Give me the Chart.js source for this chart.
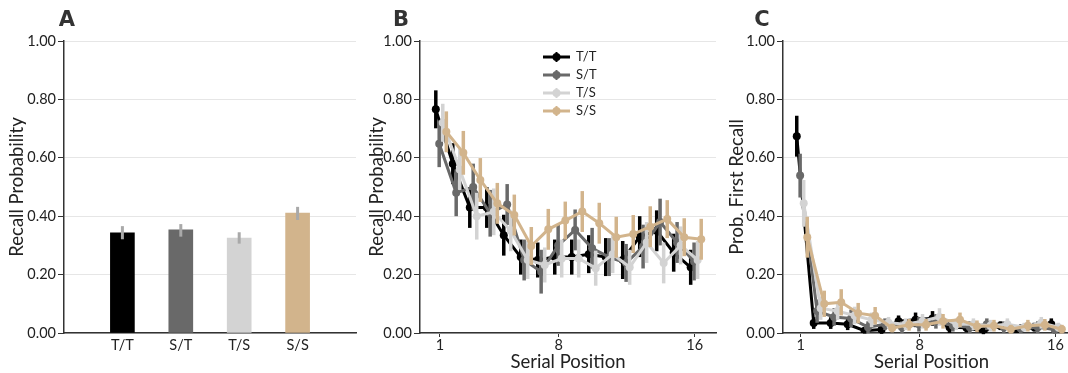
<!DOCTYPE html>
<html>
<head>
<meta charset="utf-8">
<script src="https://cdn.jsdelivr.net/npm/chart.js@4.4.1/dist/chart.umd.min.js"></script>
<style>
  html, body { margin: 0; padding: 0; background: #fff; }
  body { width: 1068px; height: 373px; overflow: hidden; position: relative; }
  canvas { position: absolute; top: 0; }
  .tag { position: absolute; top: 7px; font: bold 21px 'DejaVu Sans', sans-serif; color: #333; transform: translateX(-50%); }
</style>
</head>
<body>
<canvas id="panelA" width="360" height="373" style="left:0"></canvas>
<canvas id="panelB" width="360" height="373" style="left:360px"></canvas>
<canvas id="panelC" width="370" height="373" style="left:720px"></canvas>
<div class="tag" style="left:67px">A</div>
<div class="tag" style="left:401px">B</div>
<div class="tag" style="left:762px">C</div>
<script>
// conditions (study/test modality) and their colours
const conditions = ['T/T', 'S/T', 'T/S', 'S/S'];
const condColors = ['#000000', '#696969', '#d3d3d3', '#d2b48c'];

// overall recall probability with 95% CI
const recallMeans = [0.343, 0.353, 0.325, 0.411];
const recallLow = [0.321, 0.330, 0.306, 0.387];
const recallHigh = [0.366, 0.373, 0.345, 0.432];

const positions = [1, 2, 3, 4, 5, 6, 7, 8, 9, 10, 11, 12, 13, 14, 15, 16];
const positionTicks = [1, 8, 16];
const probTicks = [0, 0.2, 0.4, 0.6, 0.8, 1.0];

// serial position curves
const spcTT = [0.766, 0.58, 0.43, 0.43, 0.335, 0.26, 0.25, 0.26, 0.26, 0.27, 0.26, 0.25, 0.33, 0.35, 0.275, 0.225];
const spcST = [0.648, 0.48, 0.50, 0.41, 0.44, 0.25, 0.21, 0.30, 0.353, 0.29, 0.26, 0.24, 0.296, 0.38, 0.31, 0.245];
const spcTS = [0.72, 0.56, 0.40, 0.415, 0.35, 0.25, 0.233, 0.255, 0.255, 0.222, 0.27, 0.225, 0.31, 0.24, 0.30, 0.25];
const spcSS = [0.689, 0.617, 0.524, 0.444, 0.404, 0.298, 0.355, 0.385, 0.416, 0.376, 0.328, 0.339, 0.364, 0.39, 0.328, 0.321];
const spcErrTT = [0.065, 0.07, 0.07, 0.07, 0.07, 0.06, 0.06, 0.06, 0.06, 0.065, 0.065, 0.065, 0.07, 0.07, 0.065, 0.06];
const spcErrST = [0.08, 0.08, 0.08, 0.08, 0.07, 0.07, 0.075, 0.07, 0.07, 0.07, 0.065, 0.065, 0.075, 0.08, 0.07, 0.065];
const spcErrTS = [0.065, 0.07, 0.08, 0.08, 0.07, 0.065, 0.06, 0.065, 0.065, 0.06, 0.065, 0.06, 0.07, 0.07, 0.065, 0.065];
const spcErrSS = [0.07, 0.075, 0.075, 0.07, 0.07, 0.065, 0.07, 0.065, 0.07, 0.07, 0.07, 0.065, 0.07, 0.065, 0.065, 0.07];

// probability of first recall
const pfrTT = [0.674, 0.034, 0.034, 0.03, 0.008, 0.012, 0.04, 0.045, 0.05, 0.02, 0.018, 0.006, 0.025, 0.01, 0.02, 0.03];
const pfrST = [0.539, 0.075, 0.055, 0.05, 0.02, 0.03, 0.02, 0.03, 0.04, 0.025, 0.02, 0.03, 0.02, 0.015, 0.02, 0.012];
const pfrTS = [0.444, 0.085, 0.075, 0.06, 0.045, 0.035, 0.03, 0.04, 0.055, 0.03, 0.03, 0.025, 0.03, 0.02, 0.035, 0.02];
const pfrSS = [0.328, 0.10, 0.105, 0.068, 0.059, 0.017, 0.028, 0.028, 0.04, 0.045, 0.023, 0.025, 0.013, 0.025, 0.028, 0.013];
const pfrErrTT = [0.07, 0.02, 0.02, 0.02, 0.01, 0.015, 0.02, 0.025, 0.025, 0.02, 0.015, 0.01, 0.015, 0.01, 0.015, 0.02];
const pfrErrST = [0.075, 0.04, 0.03, 0.03, 0.02, 0.02, 0.02, 0.025, 0.025, 0.02, 0.02, 0.02, 0.02, 0.015, 0.02, 0.015];
const pfrErrTS = [0.08, 0.04, 0.03, 0.03, 0.025, 0.02, 0.02, 0.025, 0.03, 0.02, 0.02, 0.02, 0.02, 0.015, 0.02, 0.015];
const pfrErrSS = [0.07, 0.045, 0.045, 0.035, 0.03, 0.015, 0.02, 0.02, 0.025, 0.025, 0.02, 0.02, 0.015, 0.02, 0.02, 0.015];

// horizontal dodge so the four conditions don't sit on top of each other
const dodge = [-0.24, -0.04, 0.17, 0.38];

const TICK_FONT = { size: 14.5 };
const TITLE_FONT = { size: 18.5 };

Chart.defaults.font.family = "Lato, 'Open Sans', sans-serif";
Chart.defaults.color = '#222';
Chart.defaults.animation = false;

// vertical CI whiskers, drawn under the line (or over the bar)
const errorBars = {
  id: 'errorBars',
  beforeDatasetDraw(chart, args) { if (!chart.data.datasets[args.index].errOnTop) drawErr(chart, args.index); },
  afterDatasetDraw(chart, args) { if (chart.data.datasets[args.index].errOnTop) drawErr(chart, args.index); }
};
function drawErr(chart, idx) {
  const ds = chart.data.datasets[idx];
  if (!ds.errLow) return;
  const { x, y } = chart.scales;
  const ctx = chart.ctx;
  ctx.save();
  ctx.strokeStyle = ds.errColor || ds.borderColor;
  ctx.lineWidth = ds.errWidth;
  ds.data.forEach((pt, i) => {
    const px = x.getPixelForValue(pt.x);
    ctx.beginPath();
    ctx.moveTo(px, y.getPixelForValue(ds.errLow[i]));
    ctx.lineTo(px, y.getPixelForValue(ds.errHigh[i]));
    ctx.stroke();
  });
  ctx.restore();
}

// small legend in the upper middle of panel B
const insetLegend = {
  id: 'insetLegend',
  afterDraw(chart, args, opts) {
    if (!opts.show) return;
    const ctx = chart.ctx;
    ctx.save();
    ctx.font = "13px Lato, 'Open Sans', sans-serif";
    ctx.textBaseline = 'middle';
    conditions.forEach((c, i) => {
      const y = 57 + i * 18;
      ctx.strokeStyle = condColors[i];
      ctx.fillStyle = condColors[i];
      ctx.lineWidth = 3;
      ctx.beginPath(); ctx.moveTo(183, y); ctx.lineTo(210, y); ctx.stroke();
      ctx.lineWidth = 2;
      ctx.beginPath(); ctx.moveTo(196.5, y - 5); ctx.lineTo(196.5, y + 5); ctx.stroke();
      ctx.beginPath(); ctx.arc(196.5, y, 4, 0, Math.PI * 2); ctx.fill();
      ctx.fillStyle = '#222';
      ctx.fillText(c, 216, y);
    });
    ctx.restore();
  }
};

function yAxis(title, width) {
  return {
    min: 0, max: 1,
    afterBuildTicks: s => { s.ticks = probTicks.map(v => ({ value: v })); },
    afterFit: s => { s.width = width; },
    ticks: { callback: v => v.toFixed(2), font: TICK_FONT, padding: 2 },
    grid: { color: '#e6e6e6', lineWidth: 1, tickLength: 6, tickColor: '#333' },
    border: { color: '#333', width: 1.5 },
    title: { display: true, text: title, font: TITLE_FONT, padding: { top: 6, bottom: 0 } }
  };
}

function curve(values, errs, k) {
  return {
    label: conditions[k],
    data: positions.map((p, i) => ({ x: p + dodge[k], y: values[i] })),
    errLow: values.map((v, i) => v - errs[i]),
    errHigh: values.map((v, i) => v + errs[i]),
    borderColor: condColors[k],
    backgroundColor: condColors[k],
    borderWidth: 3,
    pointRadius: 4,
    pointHoverRadius: 4,
    pointBorderWidth: 0,
    errWidth: 3.5,
    tension: 0,
    order: 4 - k
  };
}

function curvePanel(id, datasets, yTitle, yWidth, xMin, xMax, padRight, legend) {
  return new Chart(document.getElementById(id), {
    type: 'line',
    data: { datasets },
    options: {
      responsive: false,
      layout: { padding: { top: 41, right: padRight, left: 0, bottom: 0 } },
      scales: {
        x: {
          type: 'linear', min: xMin, max: xMax,
          afterBuildTicks: s => { s.ticks = positionTicks.map(v => ({ value: v })); },
          afterFit: s => { s.height = 40; },
          ticks: { font: TICK_FONT, padding: 0, maxRotation: 0, autoSkip: false },
          grid: { drawOnChartArea: false, tickLength: 4, tickColor: '#333' },
          border: { color: '#333', width: 1.5 },
          title: { display: true, text: 'Serial Position', font: TITLE_FONT, padding: { top: 0, bottom: 0 } }
        },
        y: yAxis(yTitle, yWidth)
      },
      plugins: { legend: { display: false }, tooltip: { enabled: false }, insetLegend: { show: legend } }
    },
    plugins: [errorBars, insetLegend]
  });
}

// A: overall recall per condition
new Chart(document.getElementById('panelA'), {
  type: 'bar',
  data: {
    datasets: [{
      data: conditions.map((c, i) => ({ x: i + 1, y: recallMeans[i] })),
      backgroundColor: condColors,
      barThickness: 24,
      errLow: recallLow,
      errHigh: recallHigh,
      errColor: '#a9a9a9',
      errWidth: 3,
      errOnTop: true
    }]
  },
  options: {
    responsive: false,
    layout: { padding: { top: 41, right: 4, left: 0, bottom: 0 } },
    scales: {
      x: {
        type: 'linear', min: 0, max: 5, offset: false,
        afterBuildTicks: s => { s.ticks = conditions.map((c, i) => ({ value: i + 1 })); },
        afterFit: s => { s.height = 40; },
        ticks: { callback: v => conditions[v - 1], font: TICK_FONT, padding: 0, maxRotation: 0, autoSkip: false },
        grid: { drawOnChartArea: false, tickLength: 4, tickColor: 'rgba(0,0,0,0)' },
        border: { color: '#333', width: 1.5 }
      },
      y: yAxis('Recall Probability', 64)
    },
    plugins: { legend: { display: false }, tooltip: { enabled: false } }
  },
  plugins: [errorBars]
});

// B: serial position curves
curvePanel('panelB', [
  curve(spcTT, spcErrTT, 0),
  curve(spcST, spcErrST, 1),
  curve(spcTS, spcErrTS, 2),
  curve(spcSS, spcErrSS, 3)
], 'Recall Probability', 60, -0.17, 17.25, 3, true);

// C: probability of first recall
curvePanel('panelC', [
  curve(pfrTT, pfrErrTT, 0),
  curve(pfrST, pfrErrST, 1),
  curve(pfrTS, pfrErrTS, 2),
  curve(pfrSS, pfrErrSS, 3)
], 'Prob. First Recall', 63, -0.05, 17.45, 10, false);
</script>
</body>
</html>
